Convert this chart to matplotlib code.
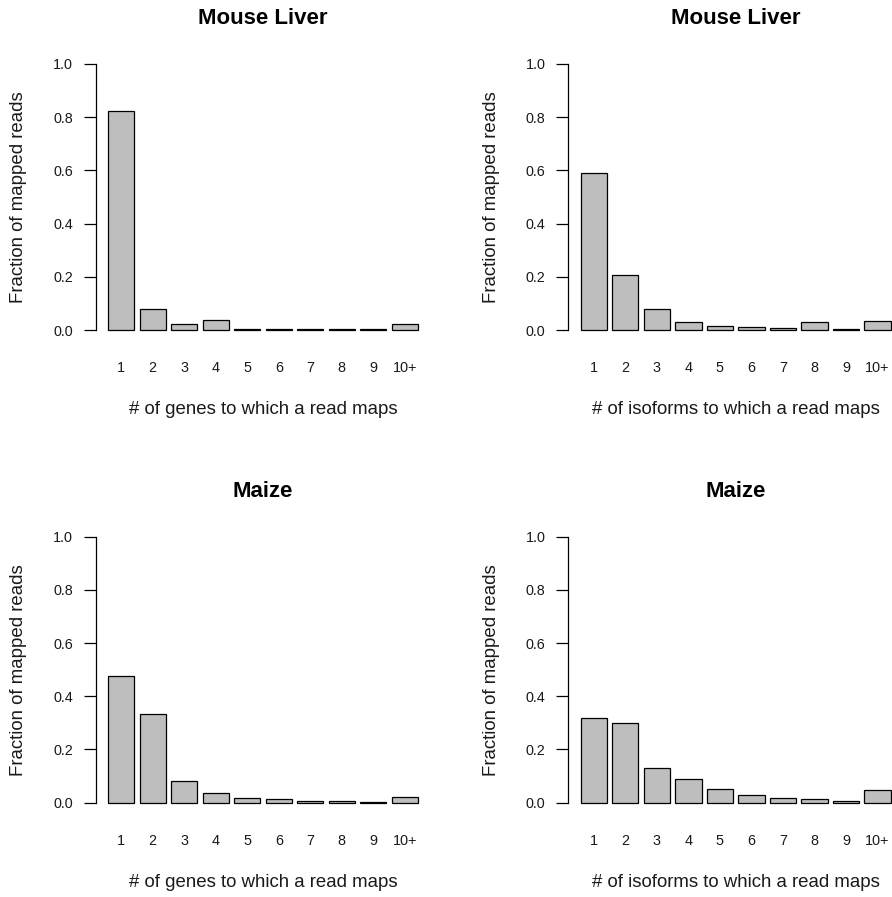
import matplotlib
matplotlib.use("Agg")
import matplotlib.pyplot as plt
import numpy as np

plt.rcParams['font.family'] = ['Liberation Sans', 'DejaVu Sans']

categories = ["1", "2", "3", "4", "5", "6", "7", "8", "9", "10+"]

mouse_genes = [0.824, 0.078, 0.021, 0.036, 0.005, 0.003, 0.004, 0.002, 0.002, 0.024]
mouse_isoforms = [0.591, 0.208, 0.079, 0.031, 0.014, 0.010, 0.009, 0.029, 0.002, 0.034]
maize_genes = [0.476, 0.332, 0.083, 0.037, 0.016, 0.014, 0.008, 0.005, 0.003, 0.021]
maize_isoforms = [0.318, 0.300, 0.129, 0.089, 0.050, 0.030, 0.019, 0.013, 0.008, 0.046]

titles = ["Mouse Liver", "Mouse Liver", "Maize", "Maize"]
xlabels = ["# of genes to which a read maps", "# of isoforms to which a read maps",
           "# of genes to which a read maps", "# of isoforms to which a read maps"]
ylabel = "Fraction of mapped reads"
yticks = [0.0, 0.2, 0.4, 0.6, 0.8, 1.0]
ytick_labels = ["0.0", "0.2", "0.4", "0.6", "0.8", "1.0"]

W, H = 892, 897
fig = plt.figure(figsize=(W / 100, H / 100), dpi=100)

series = [mouse_genes, mouse_isoforms, maize_genes, maize_isoforms]
offsets = [(0, 0), (472.7, 0), (0, 472.7), (472.7, 472.7)]

# R barplot geometry: width 1, space 0.2
centers = 0.2 + 1.2 * np.arange(len(categories)) + 0.5
xlim = (-0.272, 12.472)
ylim = (-0.04, 1.04)

TICK_FS = 10.4
LABEL_FS = 13.4
TITLE_FS = 16
TXT = "#1a1a1a"

for vals, title, xl, (dx, dy) in zip(series, titles, xlabels, offsets):
    left_px = 95.6 + dx
    right_px = 430.4 + dx
    top_px = 53.36 + dy
    bot_px = 340.64 + dy
    ax = fig.add_axes([left_px / W, 1 - bot_px / H, (right_px - left_px) / W, (bot_px - top_px) / H])
    ax.bar(centers, vals, width=1.0, color="#BEBEBE", edgecolor="black", linewidth=0.9)
    ax.set_xlim(*xlim)
    ax.set_ylim(*ylim)
    for s in ["top", "right", "bottom"]:
        ax.spines[s].set_visible(False)
    ax.spines["left"].set_bounds(0, 1)
    ax.spines["left"].set_linewidth(0.9)
    ax.set_yticks(yticks)
    ax.set_yticklabels(ytick_labels, fontsize=TICK_FS, color=TXT)
    ax.tick_params(axis="y", length=8.4, width=0.9, pad=8.0)
    ax.set_xticks(centers)
    ax.set_xticklabels(categories, fontsize=TICK_FS, color=TXT)
    ax.tick_params(axis="x", length=0, pad=14.8)
    ax.patch.set_visible(False)
    hgt = bot_px - top_px
    ax.text(0.5, (bot_px - (18.3 + dy)) / hgt, title, transform=ax.transAxes,
            ha="center", va="center", fontsize=TITLE_FS, fontweight="bold")
    ax.text(0.5, (bot_px - (410 + dy)) / hgt, xl, transform=ax.transAxes,
            ha="center", va="center", fontsize=LABEL_FS, color=TXT)
    ax.text((18.3 + dx - left_px) / (right_px - left_px), 0.5, ylabel, transform=ax.transAxes,
            ha="center", va="center", rotation=90, fontsize=LABEL_FS, color=TXT)

fig.savefig("out.png", dpi=100)
